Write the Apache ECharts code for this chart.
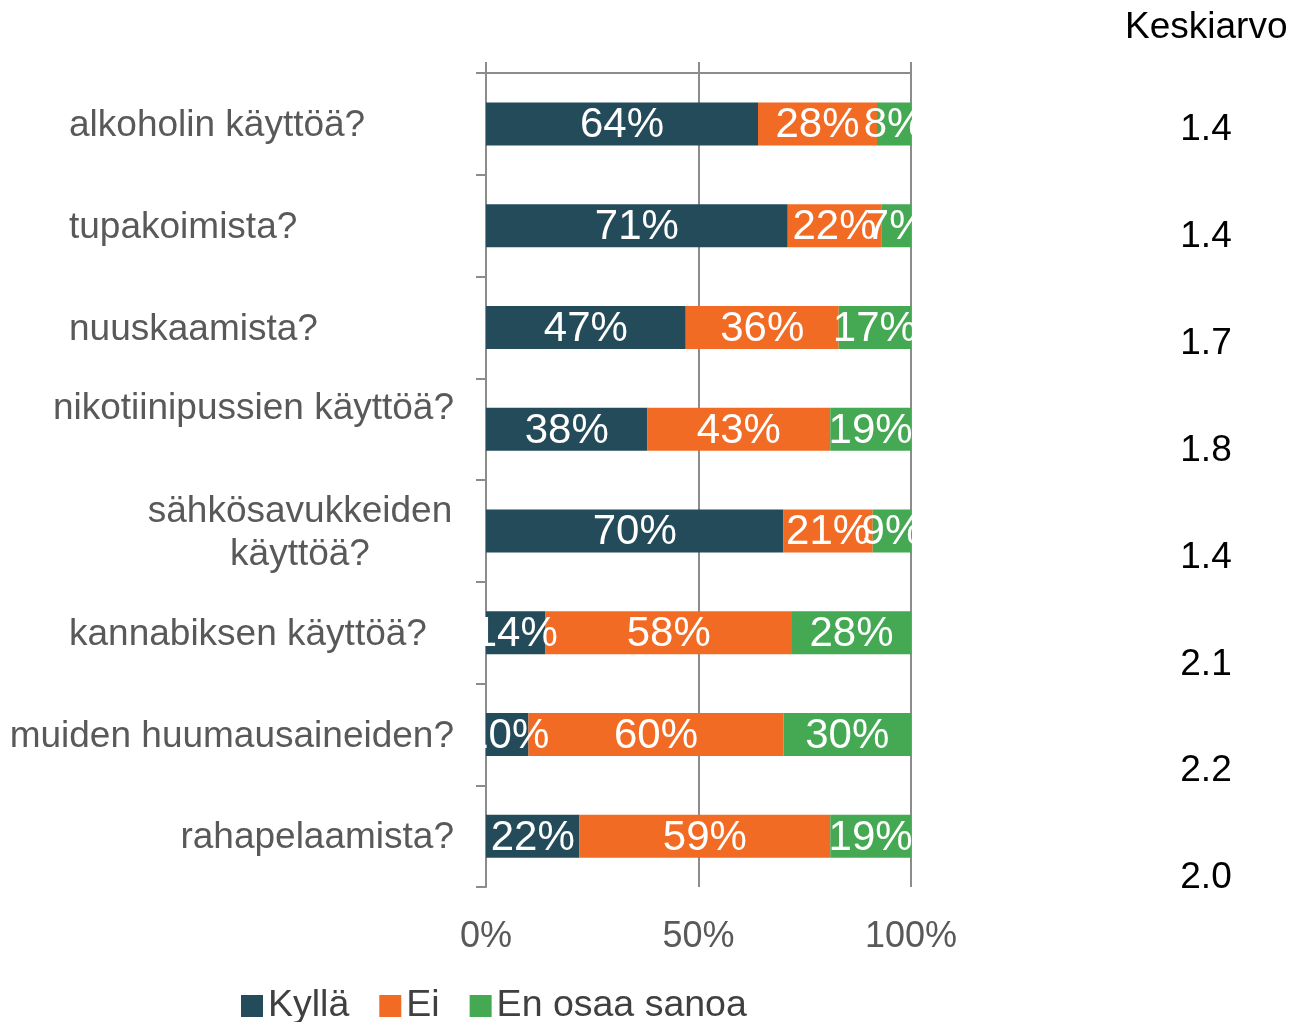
<!DOCTYPE html>
<html>
<head>
<meta charset="utf-8">
<script src="https://cdn.jsdelivr.net/npm/echarts@6/dist/echarts.min.js"></script>
<style>
  html, body { margin: 0; padding: 0; background: #fff; }
  #chart { width: 1305px; height: 1022px; }
</style>
</head>
<body>
<div id="chart"></div>
<script>
// kategoriat (ylhäältä alas)
const categories = [
  'alkoholin käyttöä?',
  'tupakoimista?',
  'nuuskaamista?',
  'nikotiinipussien käyttöä?',
  'sähkösavukkeiden\nkäyttöä?',
  'kannabiksen käyttöä?',
  'muiden huumausaineiden?',
  'rahapelaamista?'
]
const seriesNames = ['Kyllä', 'Ei', 'En osaa sanoa']
const kylla = [64, 71, 47, 38, 70, 14, 10, 22]
const ei = [28, 22, 36, 43, 21, 58, 60, 59]
const enOsaa = [8, 7, 17, 19, 9, 28, 30, 19]
const keskiarvo = ['1.4', '1.4', '1.7', '1.8', '1.4', '2.1', '2.2', '2.0']
const xTicks = [0, 50, 100]

// tekstityyli jokaiselle kategorialle (rich-avain)
const labelKey = ['l', 'l', 'l', 'up', 'c', 'l', 'r', 'r']

const FONT = 'Liberation Sans, Arial, sans-serif'
const GRAY = '#8c8c8c'
const LABEL_GRAY = '#595959'
const colors = ['#234b5a', '#f26b25', '#45a853']

const chart = echarts.init(document.getElementById('chart'))

const barLabel = {
  show: true,
  position: 'inside',
  offset: [0, 2],
  formatter: '{c}%',
  color: '#fff',
  fontSize: 42,
  fontFamily: FONT
}

function mkSeries(name, data) {
  return {
    name: name,
    type: 'bar',
    stack: 'total',
    xAxisIndex: 0,
    yAxisIndex: 0,
    barWidth: 43,
    data: data,
    label: barLabel
  }
}

function richStyle(width, align, lh) {
  return {
    width: width, align: align, fontSize: 37, lineHeight: lh,
    padding: [4, 0, 0, 0], color: LABEL_GRAY, fontFamily: FONT
  }
}

const option = {
  color: colors,
  animation: false,
  textStyle: { fontFamily: FONT },
  title: {
    text: 'Keskiarvo',
    left: 1120,
    top: 4,
    textStyle: { fontSize: 37, fontWeight: 'normal', color: '#000', fontFamily: FONT }
  },
  legend: {
    data: seriesNames,
    left: 236,
    top: 982,
    icon: 'rect',
    itemWidth: 22,
    itemHeight: 22,
    itemGap: 30,
    textStyle: { fontSize: 37.5, color: '#404040', fontFamily: FONT }
  },
  grid: [
    { left: 486, width: 425, top: 73, height: 814 },
    { left: 1206, width: 10, top: 76.5, height: 855 }
  ],
  xAxis: [
    {
      type: 'value', gridIndex: 0, position: 'top',
      min: xTicks[0], max: xTicks[xTicks.length - 1], interval: 50,
      axisLine: { show: true, lineStyle: { color: GRAY, width: 2 } },
      axisTick: { show: true, length: 11, lineStyle: { color: GRAY, width: 2 } },
      axisLabel: { show: false },
      splitLine: { show: true, lineStyle: { color: GRAY, width: 2 } }
    },
    {
      type: 'value', gridIndex: 0, position: 'bottom',
      min: xTicks[0], max: xTicks[xTicks.length - 1], interval: 50,
      axisLine: { show: false },
      axisTick: { show: false },
      splitLine: { show: false },
      axisLabel: {
        margin: 32, fontSize: 36, color: LABEL_GRAY, fontFamily: FONT,
        formatter: '{value}%'
      }
    },
    { type: 'value', gridIndex: 1, show: false }
  ],
  yAxis: [
    {
      type: 'category', gridIndex: 0, inverse: true,
      data: categories,
      axisLine: { show: true, lineStyle: { color: GRAY, width: 2 } },
      axisTick: { show: true, length: 10, lineStyle: { color: GRAY, width: 2 } },
      axisLabel: {
        margin: 32,
        formatter: (v, i) => v.split('\n').map(s => '{' + labelKey[i] + '|' + s + '}').join('\n') +
          (labelKey[i] === 'up' ? '\n{up| }' : ''),
        rich: {
          l: richStyle(385, 'left', 43),
          r: richStyle(447, 'right', 43),
          up: richStyle(403, 'right', 44),
          c: richStyle(308, 'center', 43)
        }
      }
    },
    {
      type: 'category', gridIndex: 1, inverse: true,
      data: keskiarvo,
      axisLine: { show: false },
      axisTick: { show: false },
      axisLabel: {
        margin: 0, align: 'center',
        fontSize: 37, color: '#000', fontFamily: FONT
      }
    }
  ],
  series: [
    mkSeries(seriesNames[0], kylla),
    mkSeries(seriesNames[1], ei),
    mkSeries(seriesNames[2], enOsaa)
  ]
}

chart.setOption(option)
</script>
</body>
</html>
